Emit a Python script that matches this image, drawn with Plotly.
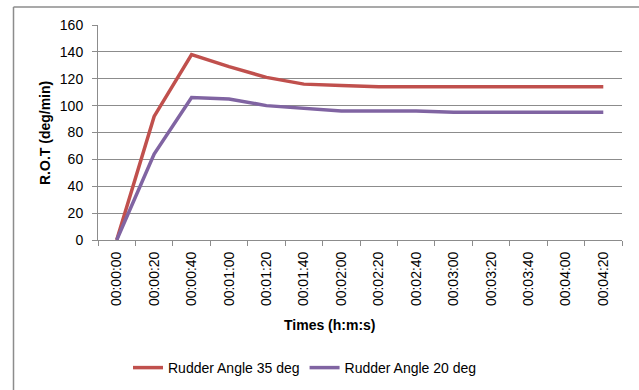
import plotly.graph_objects as go

times = ["00:00:00", "00:00:20", "00:00:40", "00:01:00", "00:01:20", "00:01:40", "00:02:00",
         "00:02:20", "00:02:40", "00:03:00", "00:03:20", "00:03:40", "00:04:00", "00:04:20"]
rudder35 = [0, 92, 138, 129, 121, 116, 115, 114, 114, 114, 114, 114, 114, 114]
rudder20 = [0, 64, 106, 105, 100, 98, 96, 96, 96, 95, 95, 95, 95, 95]

FONT = "Liberation Sans, Arial, sans-serif"
GRID = "#8c8c8c"

fig = go.Figure()
fig.add_trace(go.Scatter(x=times, y=rudder35, mode="lines", name="Rudder Angle 35 deg",
                         line=dict(color="#C0504D", width=3.5)))
fig.add_trace(go.Scatter(x=times, y=rudder20, mode="lines", name="Rudder Angle 20 deg",
                         line=dict(color="#8064A2", width=3.5)))

W, H = 639, 390
L, R, T, B = 98, 17, 25, 150
pw, ph = W - L - R, H - T - B

def px_x(p):
    return (p - L) / pw

def px_y(p):
    return (H - B - p) / ph

fig.update_layout(
    width=W, height=H,
    margin=dict(l=L, r=R, t=T, b=B, autoexpand=False),
    paper_bgcolor="white", plot_bgcolor="white",
    font=dict(family=FONT, size=14, color="#000000"),
    showlegend=True,
    legend=dict(orientation="h", x=px_x(305), y=px_y(368), xanchor="center", yanchor="middle",
                font=dict(size=14), itemwidth=30, tracegroupgap=0, bgcolor="rgba(0,0,0,0)"),
    xaxis=dict(type="category", showgrid=False, showline=True, linecolor=GRID, linewidth=1,
               ticks="outside", ticklen=5, tickcolor=GRID, tickson="boundaries",
               tickangle=-90, tickfont=dict(size=14), ticklabelstandoff=5,
               range=[-0.5, 13.5], fixedrange=True),
    yaxis=dict(range=[0, 160], dtick=20, showgrid=True, gridcolor=GRID, gridwidth=1,
               showline=True, linecolor=GRID, linewidth=1, ticks="outside", ticklen=5,
               tickcolor=GRID, tickfont=dict(size=14), ticklabelstandoff=6,
               zeroline=False, fixedrange=True),
    annotations=[
        dict(text="<b>R.O.T (deg/min)</b>", x=px_x(45), y=px_y(133), xref="paper", yref="paper",
             textangle=-90, showarrow=False, font=dict(size=14), xanchor="center", yanchor="middle"),
        dict(text="<b>Times (h:m:s)</b>", x=px_x(330), y=px_y(325), xref="paper", yref="paper",
             showarrow=False, font=dict(size=14), xanchor="center", yanchor="middle"),
    ],
    shapes=[
        dict(type="line", xref="paper", yref="paper", x0=px_x(13.5), x1=px_x(13.5),
             y0=px_y(7), y1=px_y(392), line=dict(color="#8c8c8c", width=1.5)),
        dict(type="line", xref="paper", yref="paper", x0=px_x(13.5), x1=px_x(642),
             y0=px_y(7), y1=px_y(7), line=dict(color="#8c8c8c", width=1.5)),
    ],
)

fig.write_html("out.html")
